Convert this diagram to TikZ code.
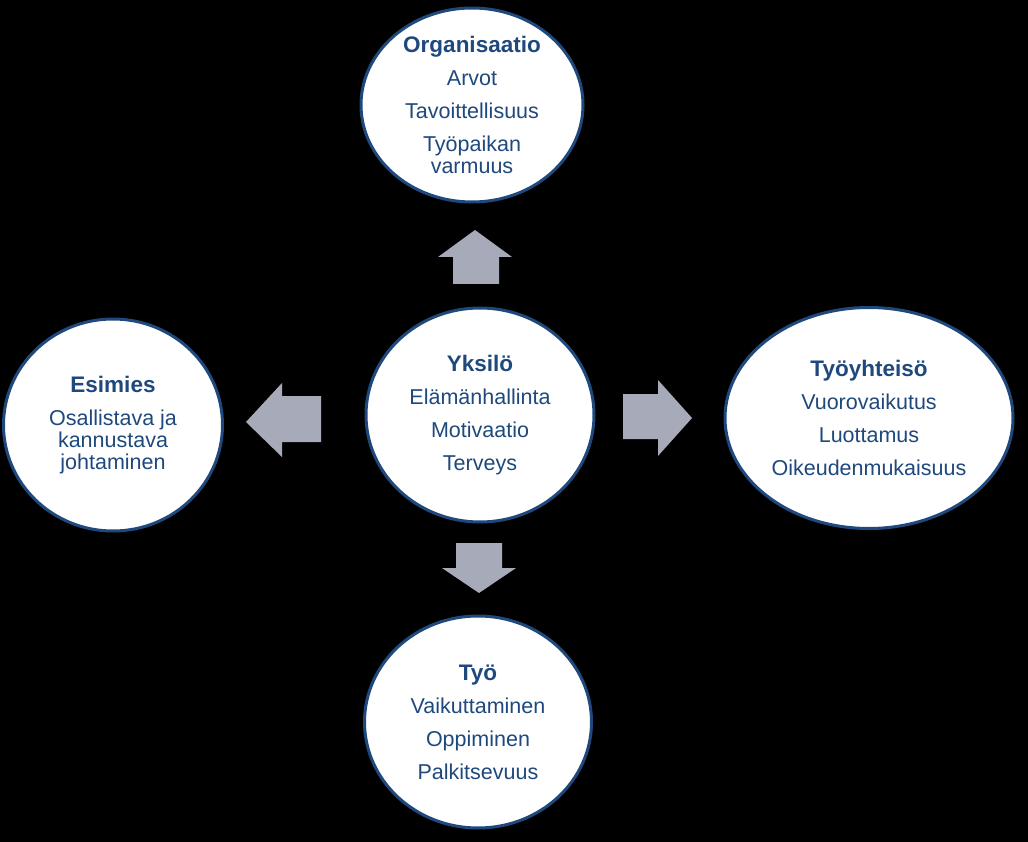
\documentclass[tikz,border=0pt]{standalone}
\usepackage{fontspec}
\setmainfont{Liberation Sans}
\usetikzlibrary{shapes.geometric}
\definecolor{navy}{RGB}{31,73,125}
\definecolor{arrowgray}{RGB}{167,171,185}
\tikzset{
  bubble/.style={ellipse, draw=navy, line width=3pt, fill=white, text=navy,
    inner sep=-6pt, align=center, font=\fontsize{21.5}{24}\selectfont},
  blockarrow/.style={fill=arrowgray},
}
\newcommand{\hd}[1]{{\fontsize{22.5}{24}\selectfont\bfseries #1}}
\begin{document}
\begin{tikzpicture}[x=1pt,y=-1pt]
\fill[black] (0,0) rectangle (1028,842);
\useasboundingbox (0,0) rectangle (1028,842);

\node[bubble, minimum width=222pt, minimum height=194pt] (org) at (472,105)
  {\hd{Organisaatio}\\[9pt]Arvot\\[9pt]Tavoittellisuus\\[9pt]Työpaikan\\[-2pt]varmuus};
\node[bubble, minimum width=219pt, minimum height=212pt] (esi) at (113,425)
  {\hd{Esimies}\\[9pt]Osallistava ja\\[-2pt]kannustava\\[-2pt]johtaminen};
\node[bubble, minimum width=228pt, minimum height=214pt] (yks) at (480,415)
  {\hd{Yksilö}\\[9pt]Elämänhallinta\\[9pt]Motivaatio\\[9pt]Terveys};
\node[bubble, minimum width=288pt, minimum height=221pt] (tyy) at (869,418)
  {\hd{Työyhteisö}\\[9pt]Vuorovaikutus\\[9pt]Luottamus\\[9pt]Oikeudenmukaisuus};
\node[bubble, minimum width=227pt, minimum height=212pt] (tyo) at (478,722)
  {\hd{Työ}\\[9pt]Vaikuttaminen\\[9pt]Oppiminen\\[9pt]Palkitsevuus};

% block arrows
\fill[blockarrow] (475,230) -- (512,257) -- (499,257) -- (499,284) -- (453,284) -- (453,257) -- (438,257) -- cycle;
\fill[blockarrow] (456,543) -- (502,543) -- (502,568) -- (516,568) -- (479,593) -- (442,568) -- (456,568) -- cycle;
\fill[blockarrow] (246,422) -- (282,383) -- (282,396) -- (321,396) -- (321,442) -- (282,442) -- (282,457) -- cycle;
\fill[blockarrow] (692,418) -- (658,380) -- (658,394) -- (623,394) -- (623,439) -- (658,439) -- (658,456) -- cycle;
\end{tikzpicture}
\end{document}
